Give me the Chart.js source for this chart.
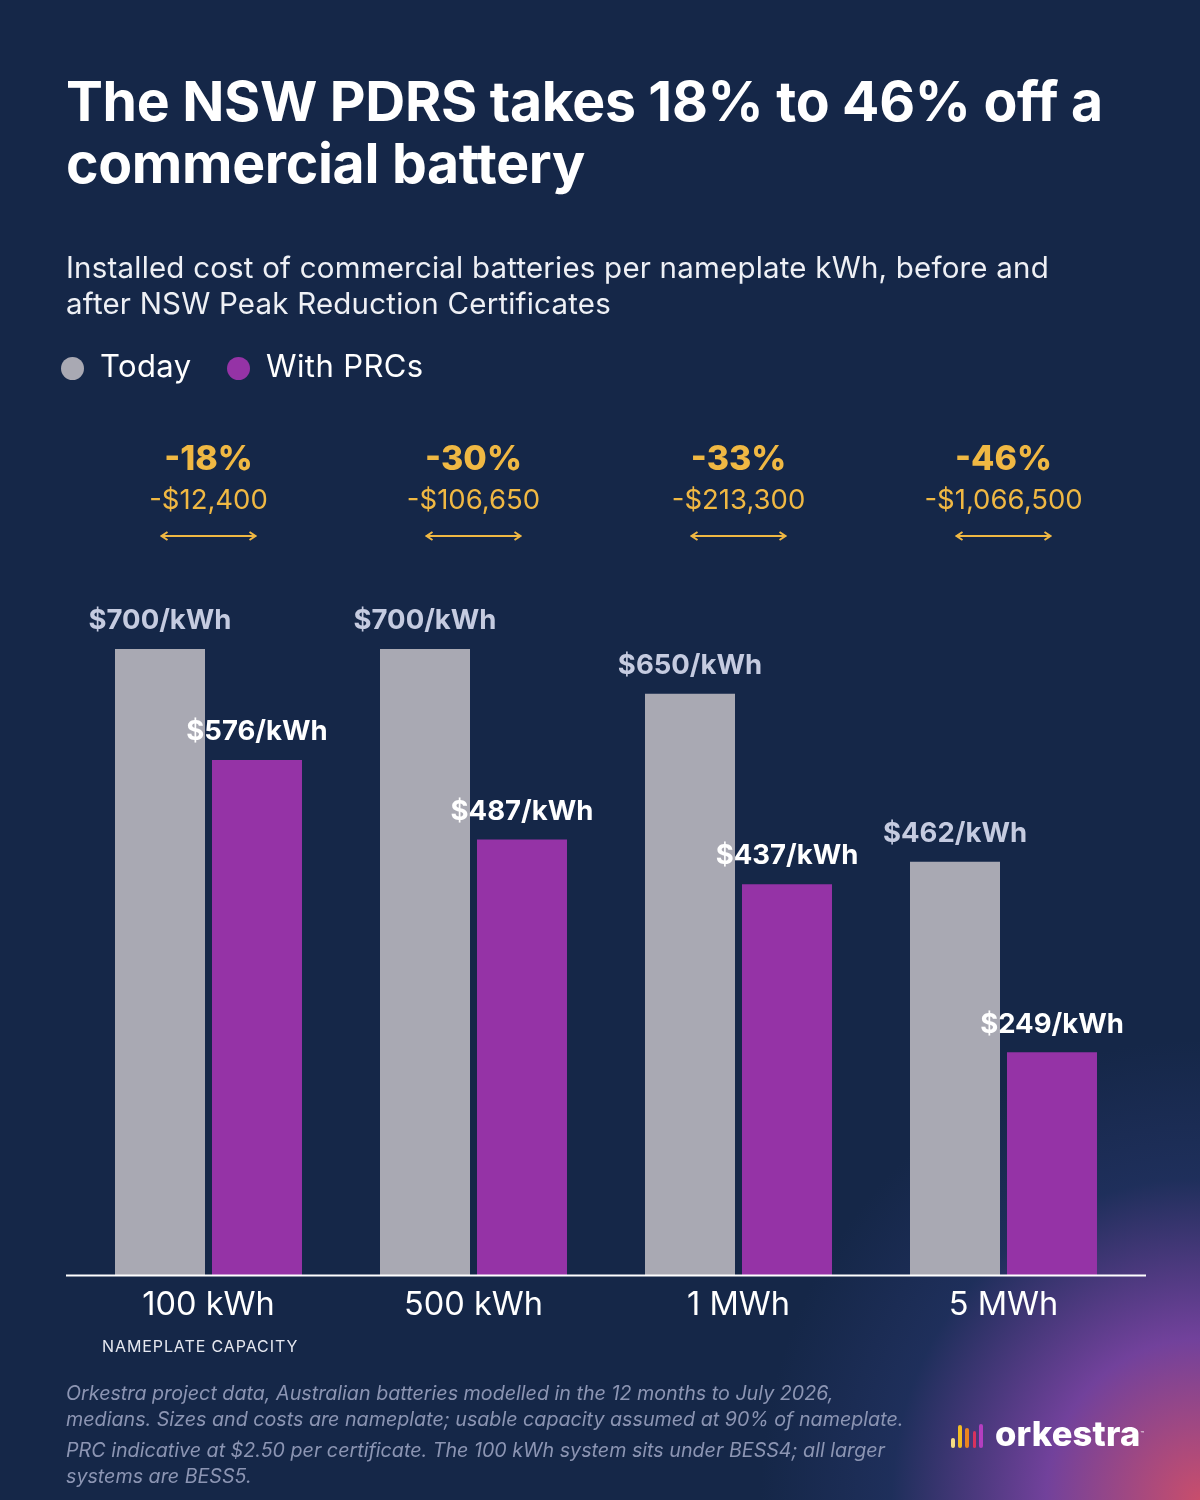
<!DOCTYPE html>
<html>
<head>
<meta charset="utf-8">
<script src="https://cdn.jsdelivr.net/npm/chart.js@4"></script>
<style>
  html, body { margin:0; padding:0; }
  body {
    width:1200px; height:1500px; overflow:hidden; position:relative;
    background:
      radial-gradient(ellipse 440px 460px at 100% 100%, rgba(210,80,110,0.95) 0%, rgba(130,70,170,0.85) 35%, rgba(40,55,110,0.5) 70%, rgba(21,39,72,0) 100%),
      #152748;
    font-family: Inter, "Open Sans", sans-serif;
    color:#fff;
  }
  #wrap { position:absolute; left:0; top:0; width:1200px; height:1500px; }
  .abs { position:absolute; white-space:nowrap; }
  #title { left:66px; top:70px; font-size:55.3px; font-weight:700; line-height:62px; letter-spacing:-0.3px; }
  #sub { left:66px; top:249px; font-size:29.5px; line-height:36px; color:#eef0f5; letter-spacing:0.2px; }
  .legdot { position:absolute; width:23px; height:23px; border-radius:50%; }
  .legtxt { font-size:31px; line-height:36px; letter-spacing:0.4px; }
  #cap { left:102px; top:1336px; font-size:16px; letter-spacing:0.9px; color:#e6e8f0; }
  #foot { left:66px; top:1380px; font-size:19.7px; font-style:italic; color:#8c95b3; line-height:26px; }
  #foot p { margin:0 0 5px 0; }
  .lb { position:absolute; width:3.6px; border-radius:2px; }
  #logo { left:995px; top:1414px; font-size:34.5px; font-weight:800; letter-spacing:0.2px; line-height:40px; }
</style>
</head>
<body>
<div id="wrap"><canvas id="c"></canvas></div>

<div class="abs" id="title">The NSW PDRS takes 18% to 46% off a<br>commercial battery</div>
<div class="abs" id="sub">Installed cost of commercial batteries per nameplate kWh, before and<br>after NSW Peak Reduction Certificates</div>

<div class="legdot" style="left:61px;top:357px;background:#a9a9b3"></div>
<div class="abs legtxt" style="left:100px;top:348px;">Today</div>
<div class="legdot" style="left:227px;top:357px;background:#9533a6"></div>
<div class="abs legtxt" style="left:266px;top:348px;">With PRCs</div>

<div class="abs" id="cap">NAMEPLATE CAPACITY</div>

<div class="abs" id="foot">
<p>Orkestra project data, Australian batteries modelled in the 12 months to July 2026,<br>medians. Sizes and costs are nameplate; usable capacity assumed at 90% of nameplate.</p>
<p>PRC indicative at $2.50 per certificate. The 100 kWh system sits under BESS4; all larger<br>systems are BESS5.</p>
</div>

<div class="lb" style="left:951px;top:1438px;height:10px;background:#f6dc84"></div>
<div class="lb" style="left:958px;top:1425px;height:23px;background:#f2bd24"></div>
<div class="lb" style="left:965px;top:1428px;height:20px;background:#ea8420"></div>
<div class="lb" style="left:972.5px;top:1431px;height:17px;background:#d8325e"></div>
<div class="lb" style="left:979px;top:1424px;height:24px;background:#b43ec0"></div>
<div class="abs" id="logo">orkestra<span style="font-size:6px;vertical-align:top;font-weight:400;">™</span></div>

<script>
const categories = ['100 kWh', '500 kWh', '1 MWh', '5 MWh'];
const todayValues = [700, 700, 650, 462];
const prcValues = [576, 487, 437, 249];
const pctLabels = ['-18%', '-30%', '-33%', '-46%'];
const savingLabels = ['-$12,400', '-$106,650', '-$213,300', '-$1,066,500'];
const seriesNames = ['Today', 'With PRCs'];

const FONT = 'Inter, "Open Sans", sans-serif';

const overlay = {
  id: 'overlay',
  afterDatasetsDraw(chart) {
    const ctx = chart.ctx;
    ctx.save();
    const colors = ['#c5cbe0', '#ffffff'];
    chart.data.datasets.forEach((ds, di) => {
      const meta = chart.getDatasetMeta(di);
      meta.data.forEach((bar, i) => {
        ctx.font = '700 27.5px ' + FONT;
        ctx.fillStyle = colors[di];
        ctx.textAlign = 'center';
        ctx.textBaseline = 'middle';
        ctx.fillText('$' + ds.data[i] + '/kWh', bar.x, bar.y - 28);
      });
    });
    const ca = chart.chartArea;
    ctx.strokeStyle = '#ffffff';
    ctx.lineWidth = 2;
    ctx.beginPath();
    ctx.moveTo(66, ca.bottom + 0.5);
    ctx.lineTo(1146, ca.bottom + 0.5);
    ctx.stroke();
    const xs = chart.scales.x;
    categories.forEach((c, i) => {
      const cx = xs.getPixelForValue(i);
      ctx.fillStyle = '#f0b843';
      ctx.textAlign = 'center';
      ctx.textBaseline = 'middle';
      ctx.font = '800 34px ' + FONT;
      ctx.fillText(pctLabels[i], cx, 460);
      ctx.font = '400 27.5px ' + FONT;
      ctx.fillText(savingLabels[i], cx, 501);
      const y = 536, x0 = cx - 47, x1 = cx + 47;
      ctx.strokeStyle = '#f0b843';
      ctx.lineWidth = 2;
      ctx.beginPath();
      ctx.moveTo(x0, y); ctx.lineTo(x1, y);
      ctx.moveTo(x0 + 6, y - 4); ctx.lineTo(x0, y); ctx.lineTo(x0 + 6, y + 4);
      ctx.moveTo(x1 - 6, y - 4); ctx.lineTo(x1, y); ctx.lineTo(x1 - 6, y + 4);
      ctx.stroke();
    });
    ctx.restore();
  }
};

new Chart(document.getElementById('c'), {
  type: 'bar',
  data: {
    labels: categories,
    datasets: [
      { label: seriesNames[0], data: todayValues, backgroundColor: '#a9a9b3' },
      { label: seriesNames[1], data: prcValues, backgroundColor: '#9533a6' }
    ]
  },
  options: {
    responsive: true,
    maintainAspectRatio: false,
    animation: false,
    devicePixelRatio: 1,
    layout: { padding: { left: 76, right: 64, top: 649, bottom: 164 } },
    datasets: { bar: { categoryPercentage: 0.732, barPercentage: 0.928 } },
    plugins: { legend: { display: false }, tooltip: { enabled: false } },
    scales: {
      y: { display: false, min: 0, max: 700 },
      x: {
        grid: { display: false, drawTicks: false },
        border: { display: false },
        ticks: { color: '#ffffff', font: { family: FONT, size: 32.5 }, padding: 11 }
      }
    }
  },
  plugins: [overlay]
});
</script>
</body>
</html>
